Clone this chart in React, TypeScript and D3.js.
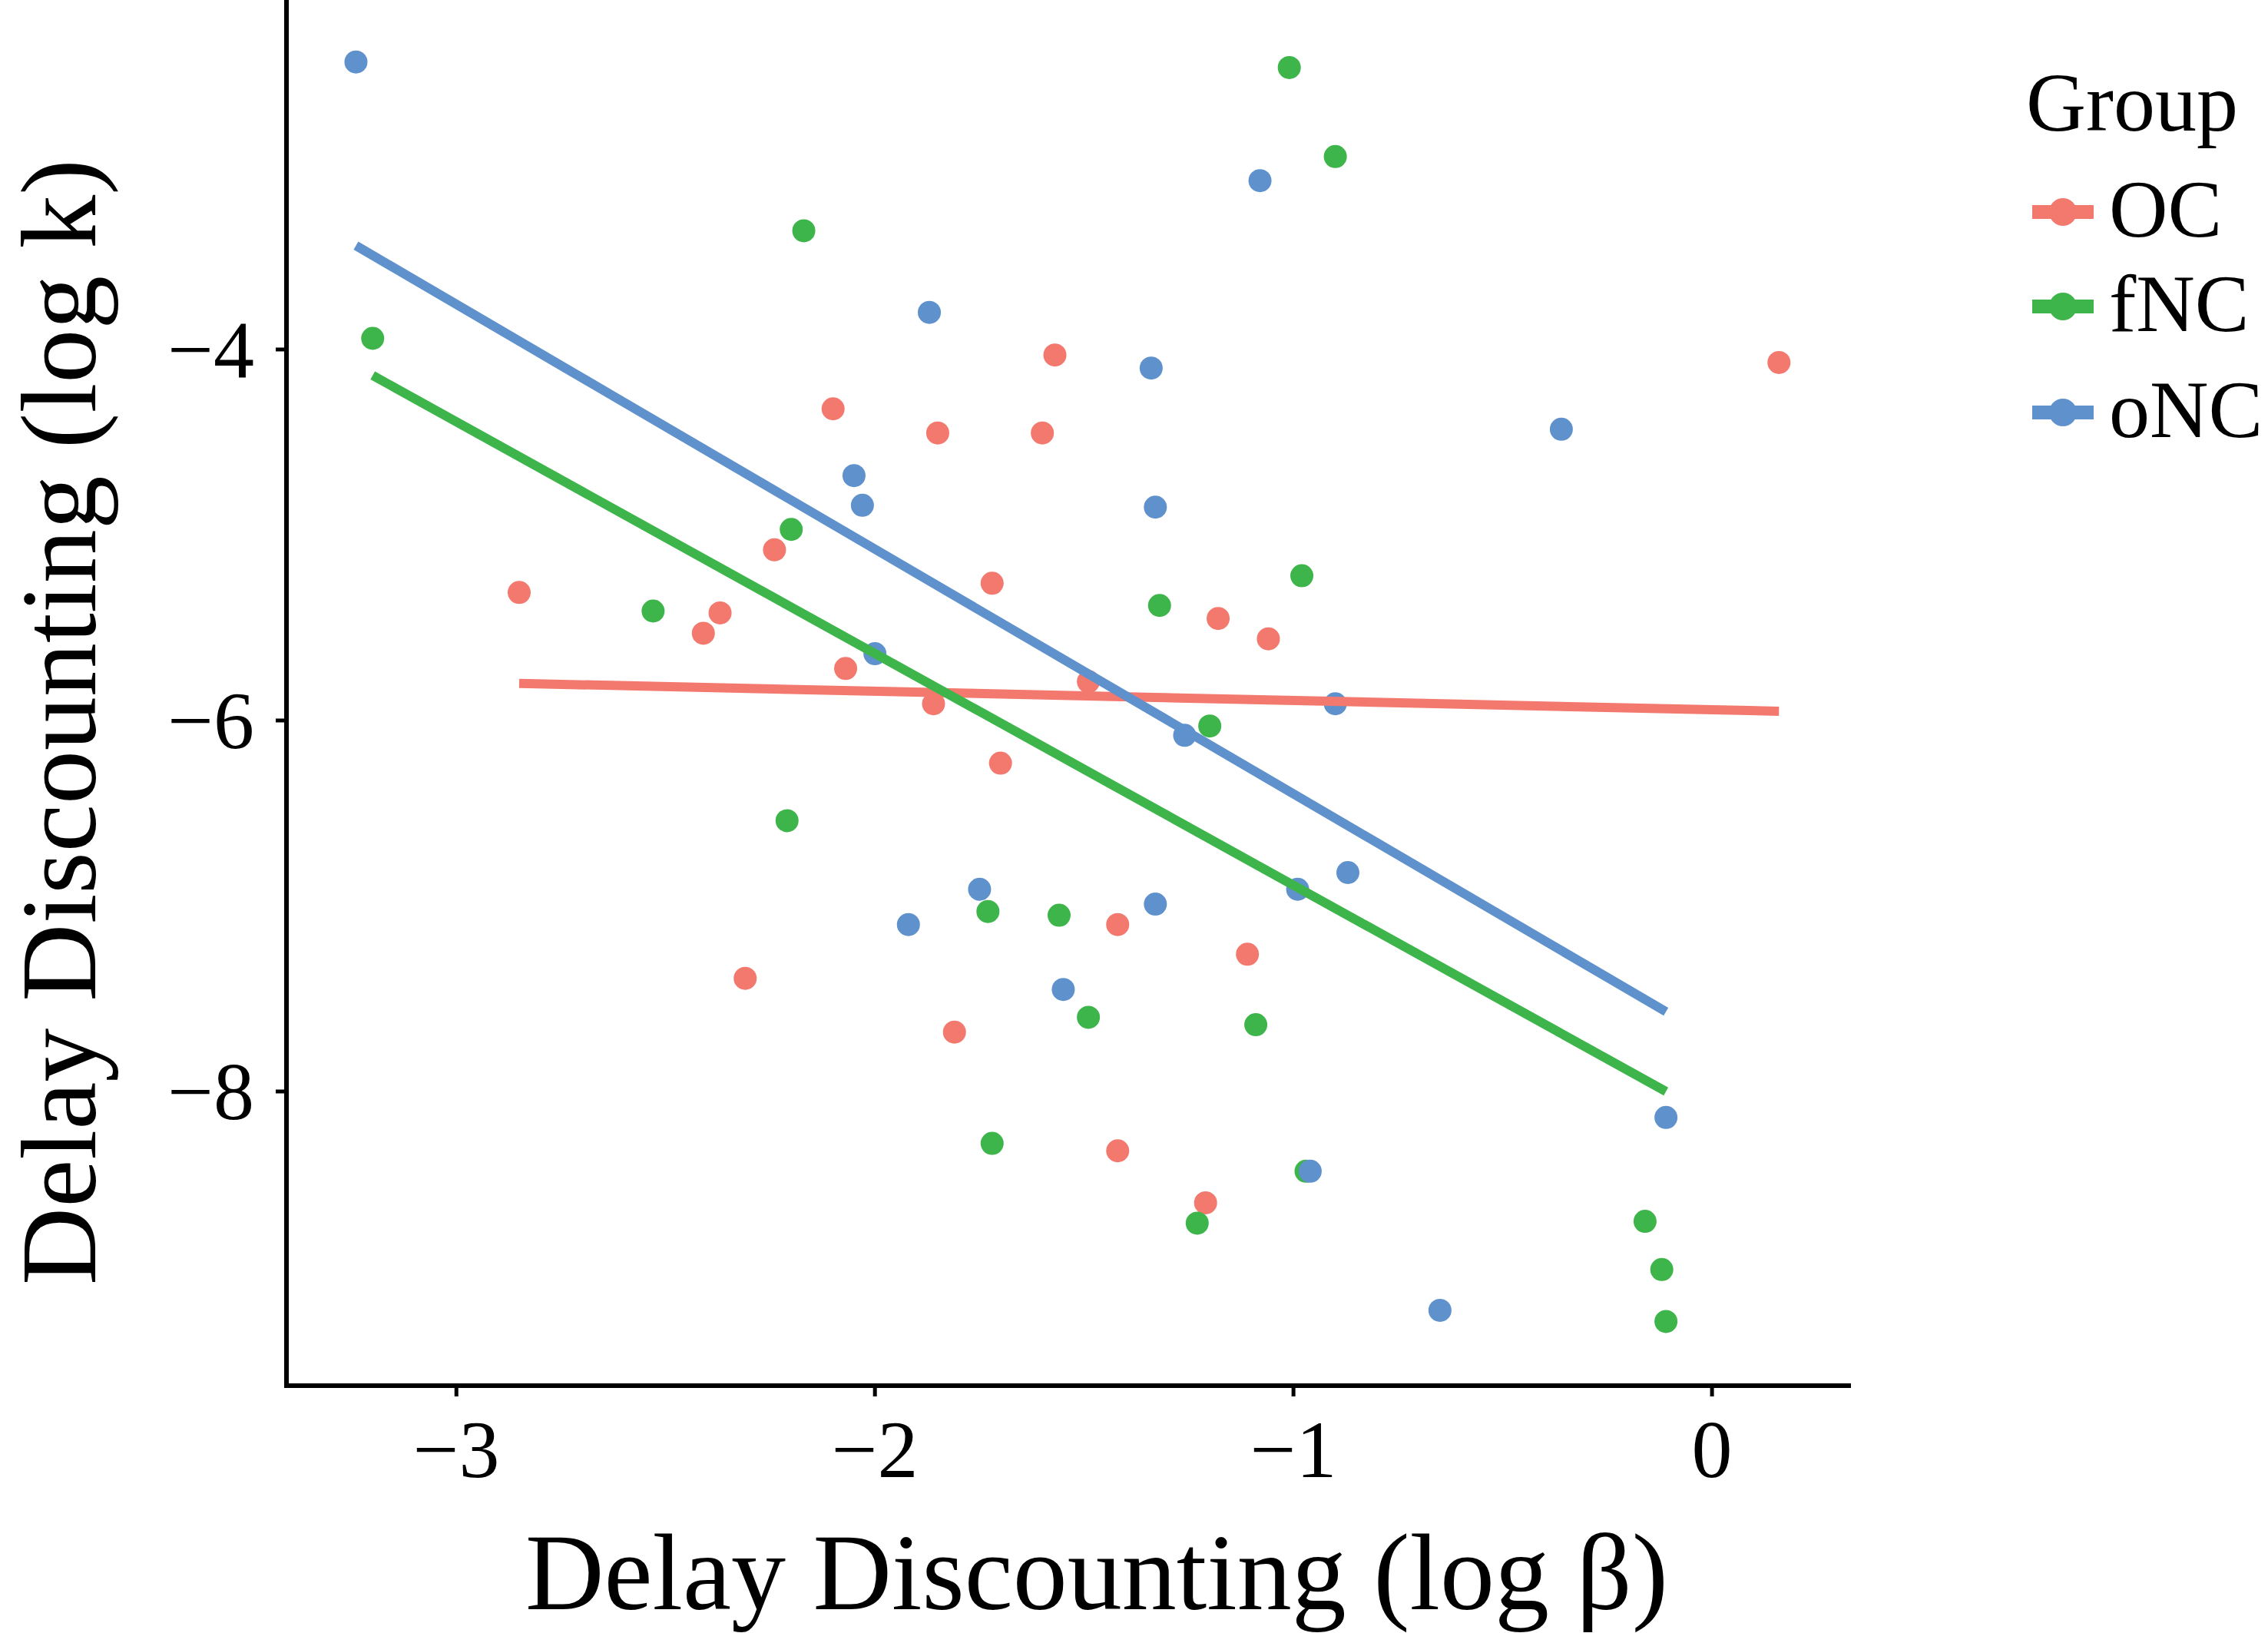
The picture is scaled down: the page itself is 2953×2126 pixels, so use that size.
import React from "react"
import { scaleLinear, line } from "d3"

// data
const groups = ["OC", "fNC", "oNC"]
const groupColors = ["#F3796E", "#3DB54A", "#5F91CD"]

const ocX = [-2.85, -2.41, -2.37, -2.24, -2.10, -2.07, -1.85, -1.86, -1.72, -1.70, -1.57, -1.60, -1.49, -1.42, -1.18, -1.06, -1.11, -2.31, -1.81, -1.42, -1.21, 0.16]
const ocY = [-5.31, -5.53, -5.42, -5.08, -4.32, -5.72, -4.45, -5.91, -5.26, -6.23, -4.03, -4.45, -5.79, -7.10, -5.45, -5.56, -7.26, -7.39, -7.68, -8.32, -8.60, -4.07]

const fncX = [-1.01, -0.90, -2.17, -3.20, -2.20, -2.53, -0.98, -1.32, -1.20, -2.21, -1.73, -1.56, -1.49, -1.09, -1.72, -1.23, -0.16, -0.12, -0.11, -0.97]
const fncY = [-2.48, -2.96, -3.36, -3.94, -4.97, -5.41, -5.22, -5.38, -6.03, -6.54, -7.03, -7.05, -7.60, -7.64, -8.28, -8.71, -8.70, -8.96, -9.24, -8.43]

const oncX = [-3.24, -1.08, -1.87, -1.34, -0.36, -2.05, -2.03, -1.33, -2.00, -0.90, -1.26, -0.87, -1.75, -0.99, -1.33, -1.92, -1.55, -0.11, -0.96, -0.65]
const oncY = [-2.45, -3.09, -3.80, -4.10, -4.43, -4.68, -4.84, -4.85, -5.64, -5.91, -6.08, -6.82, -6.91, -6.91, -6.99, -7.10, -7.45, -8.14, -8.43, -9.18]

// linear fit end points per group: [x0, y0, x1, y1]
const fitOC = [-2.85, -5.8, 0.16, -5.95]
const fitFNC = [-3.2, -4.14, -0.11, -8.0]
const fitONC = [-3.24, -3.44, -0.11, -7.57]

const xTicks = [-3, -2, -1, 0]
const yTicks = [-4, -6, -8]
const xDomain = [-3.406, 0.332]
const yDomain = [-9.586, -2.116]

const xTitle = "Delay Discounting (log β)"
const yTitle = "Delay Discounting (log k)"
const legendTitle = "Group"

const App = () => {
  const width = 2953
  const height = 2126
  const margins = { top: 0, right: 543, bottom: 322, left: 373 }
  const x = scaleLinear()
    .domain(xDomain)
    .range([margins.left, width - margins.right])
  const y = scaleLinear()
    .domain(yDomain)
    .range([height - margins.bottom, margins.top])

  const font = "'Liberation Serif', 'Times New Roman', serif"
  const series = [
    { xs: ocX, ys: ocY, fit: fitOC },
    { xs: fncX, ys: fncY, fit: fitFNC },
    { xs: oncX, ys: oncY, fit: fitONC },
  ]
  const lineGen = line<[number, number]>()
    .x((d) => x(d[0]))
    .y((d) => y(d[1]))

  const axisY = height - margins.bottom
  const tickLen = 14
  const legendRows = [276, 399, 537]

  return (
    <svg
      width={width}
      height={height}
      style={{ position: "absolute", left: 0, top: 0, background: "#fff" }}
    >
      {/* points */}
      {series.map((s, gi) =>
        s.xs.map((v, i) => (
          <circle
            key={`${gi}-${i}`}
            cx={x(v)}
            cy={y(s.ys[i])}
            r={15}
            fill={groupColors[gi]}
          />
        )),
      )}

      {/* fit lines */}
      {series.map((s, gi) => (
        <path
          key={`fit-${gi}`}
          d={
            lineGen([
              [s.fit[0], s.fit[1]],
              [s.fit[2], s.fit[3]],
            ]) ?? ""
          }
          stroke={groupColors[gi]}
          strokeWidth={12}
          fill="none"
        />
      ))}

      {/* axes */}
      <line
        x1={margins.left}
        x2={margins.left}
        y1={0}
        y2={axisY + 3}
        stroke="#000"
        strokeWidth={6}
      />
      <line
        x1={margins.left - 3}
        x2={width - margins.right}
        y1={axisY}
        y2={axisY}
        stroke="#000"
        strokeWidth={6}
      />
      {xTicks.map((t) => (
        <g key={`xt-${t}`}>
          <line
            x1={x(t)}
            x2={x(t)}
            y1={axisY}
            y2={axisY + tickLen}
            stroke="#000"
            strokeWidth={5}
          />
          <text
            x={x(t)}
            y={1923}
            textAnchor="middle"
            fontFamily={font}
            fontSize={106}
            fill="#000"
          >
            {t < 0 ? `\u2212${Math.abs(t)}` : t}
          </text>
        </g>
      ))}
      {yTicks.map((t) => (
        <g key={`yt-${t}`}>
          <line
            x1={margins.left - tickLen}
            x2={margins.left}
            y1={y(t)}
            y2={y(t)}
            stroke="#000"
            strokeWidth={5}
          />
          <text
            x={331}
            y={y(t)}
            dy="0.34em"
            textAnchor="end"
            fontFamily={font}
            fontSize={106}
            fill="#000"
          >
            {`\u2212${Math.abs(t)}`}
          </text>
        </g>
      ))}

      {/* axis titles */}
      <text
        x={1428}
        y={2095}
        textAnchor="middle"
        fontFamily={font}
        fontSize={142}
        fill="#000"
      >
        {xTitle}
      </text>
      <text
        transform="translate(124, 940) rotate(-90)"
        textAnchor="middle"
        fontFamily={font}
        fontSize={140}
        fill="#000"
      >
        {yTitle}
      </text>

      {/* legend */}
      <text x={2638} y={170} fontFamily={font} fontSize={108} fill="#000">
        {legendTitle}
      </text>
      {groups.map((g, i) => (
        <g key={g}>
          <line
            x1={2646}
            x2={2726}
            y1={legendRows[i]}
            y2={legendRows[i]}
            stroke={groupColors[i]}
            strokeWidth={18}
          />
          <circle cx={2686} cy={legendRows[i]} r={18} fill={groupColors[i]} />
          <text
            x={2746}
            y={legendRows[i]}
            dy="0.3em"
            fontFamily={font}
            fontSize={106}
            fill="#000"
          >
            {g}
          </text>
        </g>
      ))}
    </svg>
  )
}

export default App
